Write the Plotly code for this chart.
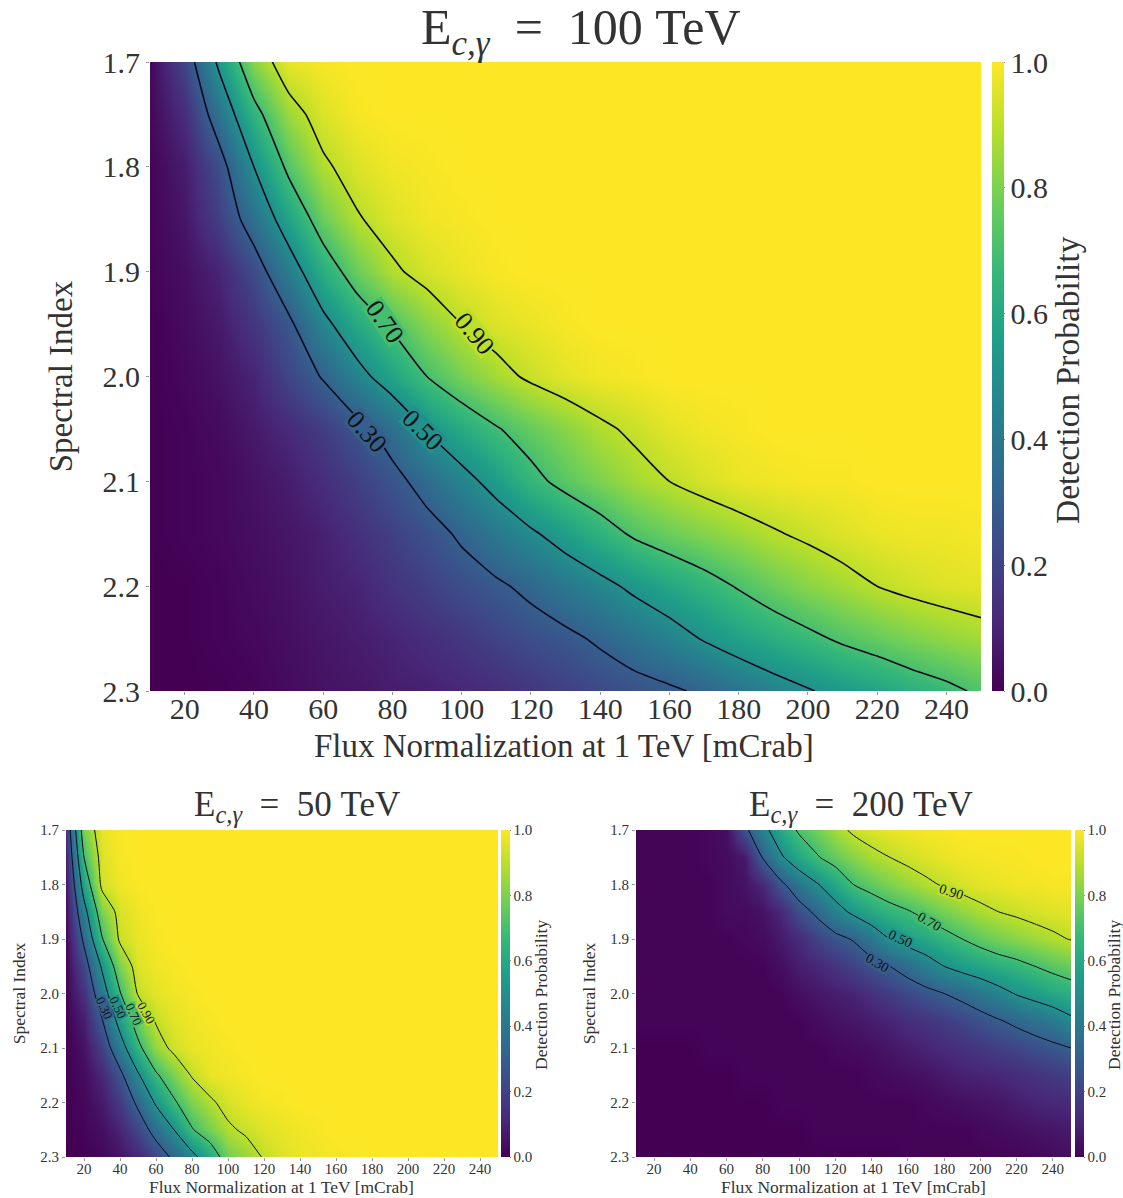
import plotly.graph_objects as go
from plotly.colors import sample_colorscale

FLUX = [10, 20, 30, 40, 50, 60, 70, 80, 90, 100, 110, 120, 130, 140, 150, 160, 170, 180, 190, 200, 210, 220, 230, 240, 250]
INDEX = [1.7, 1.75, 1.8, 1.85, 1.9, 1.95, 2.0, 2.05, 2.1, 2.15, 2.2, 2.25, 2.3]
X_TICKS = [20, 40, 60, 80, 100, 120, 140, 160, 180, 200, 220, 240]
Y_TICKS = [1.7, 1.8, 1.9, 2.0, 2.1, 2.2, 2.3]
C_TICKS = [0, 0.2, 0.4, 0.6, 0.8, 1.0]
X_LABEL = "Flux Normalization at 1 TeV [mCrab]"
Y_LABEL = "Spectral Index"
C_LABEL = "Detection Probability"

P_100 = [
 [.02,.21,.53,.82,.97,.99,1,1,1,1,1,1,1,1,1,1,1,1,1,1,1,1,1,1,1],
 [.02,.13,.38,.65,.85,.95,.99,1,1,1,1,1,1,1,1,1,1,1,1,1,1,1,1,1,1],
 [.01,.08,.24,.50,.73,.88,.95,.98,.99,1,1,1,1,1,1,1,1,1,1,1,1,1,1,1,1],
 [.01,.06,.19,.37,.58,.77,.89,.95,.98,.99,1,1,1,1,1,1,1,1,1,1,1,1,1,1,1],
 [.01,.04,.10,.23,.42,.62,.77,.88,.94,.97,.99,1,1,1,1,1,1,1,1,1,1,1,1,1,1],
 [0,.03,.07,.16,.27,.46,.61,.72,.82,.90,.95,.97,.99,1,1,1,1,1,1,1,1,1,1,1,1],
 [0,.02,.05,.10,.21,.31,.45,.58,.70,.79,.86,.92,.96,.98,.99,1,1,1,1,1,1,1,1,1,1],
 [0,.01,.03,.07,.12,.18,.26,.36,.51,.61,.69,.76,.82,.88,.92,.96,.98,.99,1,1,1,1,1,1,1],
 [0,.01,.02,.05,.08,.13,.19,.26,.35,.45,.55,.66,.74,.80,.86,.90,.94,.97,.98,.99,.99,1,1,1,1],
 [0,.01,.02,.04,.06,.09,.14,.19,.25,.32,.40,.48,.56,.64,.72,.77,.81,.85,.89,.92,.95,.97,.98,.98,.99],
 [0,0,.01,.03,.05,.08,.10,.15,.19,.24,.28,.33,.40,.46,.53,.59,.65,.71,.77,.82,.86,.90,.93,.95,.96],
 [0,0,.01,.02,.04,.06,.08,.10,.13,.16,.20,.24,.27,.32,.38,.44,.51,.57,.62,.67,.72,.76,.80,.83,.86],
 [0,0,0,.01,.03,.05,.06,.08,.09,.11,.13,.16,.19,.22,.25,.28,.32,.38,.44,.49,.54,.58,.63,.67,.72],
]

P_50 = [
 [.15,.80,.97,.995,1,1,1,1,1,1,1,1,1,1,1,1,1,1,1,1,1,1,1,1,1],
 [.10,.70,.95,.99,1,1,1,1,1,1,1,1,1,1,1,1,1,1,1,1,1,1,1,1,1],
 [.06,.58,.93,.98,.995,1,1,1,1,1,1,1,1,1,1,1,1,1,1,1,1,1,1,1,1],
 [.04,.44,.80,.94,.98,.995,1,1,1,1,1,1,1,1,1,1,1,1,1,1,1,1,1,1,1],
 [.02,.33,.69,.92,.97,.99,1,1,1,1,1,1,1,1,1,1,1,1,1,1,1,1,1,1,1],
 [.01,.22,.52,.80,.95,.98,.99,1,1,1,1,1,1,1,1,1,1,1,1,1,1,1,1,1,1],
 [.01,.14,.41,.69,.91,.96,.98,.99,1,1,1,1,1,1,1,1,1,1,1,1,1,1,1,1,1],
 [0,.08,.29,.56,.78,.91,.96,.98,.99,1,1,1,1,1,1,1,1,1,1,1,1,1,1,1,1],
 [0,.05,.19,.42,.66,.84,.93,.97,.98,.99,1,1,1,1,1,1,1,1,1,1,1,1,1,1,1],
 [0,.03,.11,.26,.48,.68,.80,.91,.97,.98,.99,1,1,1,1,1,1,1,1,1,1,1,1,1,1],
 [0,.02,.07,.17,.33,.52,.68,.80,.88,.94,.97,.985,.99,1,1,1,1,1,1,1,1,1,1,1,1],
 [0,.01,.04,.10,.21,.36,.50,.69,.79,.88,.92,.95,.97,.98,.99,1,1,1,1,1,1,1,1,1,1],
 [0,0,.02,.05,.11,.21,.33,.45,.60,.78,.84,.91,.95,.97,.98,.99,.995,1,1,1,1,1,1,1,1],
]

P_200 = [
 [.01,.01,.01,.01,.02,.04,.26,.45,.60,.72,.78,.86,.92,.95,.97,.98,.99,.99,1,1,1,1,1,1,1],
 [.01,.01,.01,.01,.02,.03,.07,.31,.48,.60,.69,.76,.82,.87,.90,.93,.95,.97,.98,.985,.99,.99,1,1,1],
 [.01,.01,.01,.01,.01,.03,.05,.11,.27,.39,.49,.59,.70,.75,.80,.84,.88,.91,.94,.96,.97,.98,.98,.99,.99],
 [.01,.01,.01,.01,.01,.03,.03,.05,.11,.24,.33,.44,.53,.60,.65,.69,.74,.79,.83,.87,.90,.92,.94,.95,.96],
 [.01,.01,.01,.01,.01,.01,.02,.03,.07,.12,.20,.26,.31,.40,.50,.56,.60,.65,.70,.75,.79,.82,.85,.88,.905],
 [.01,.01,.01,.01,.01,.01,.01,.01,.04,.08,.11,.15,.20,.25,.30,.36,.43,.50,.55,.59,.63,.66,.70,.74,.77],
 [.01,.01,.01,.01,.01,.01,.01,.01,.01,.04,.06,.08,.10,.14,.18,.22,.26,.30,.34,.39,.45,.51,.55,.59,.63],
 [.01,.01,.01,.01,.01,.01,.01,.01,.01,.01,.03,.05,.06,.08,.10,.13,.15,.18,.21,.25,.29,.33,.37,.41,.47],
 [0,0,0,0,.01,.01,.01,.01,.01,.01,.01,.02,.03,.04,.06,.08,.10,.12,.14,.16,.19,.21,.24,.27,.30],
 [0,0,0,0,0,0,.01,.01,.01,.01,.01,.01,.01,.02,.03,.04,.05,.07,.09,.10,.11,.13,.15,.17,.19],
 [0,0,0,0,0,0,0,0,.01,.01,.01,.01,.01,.01,.01,.01,.02,.03,.04,.05,.06,.08,.10,.11,.12],
 [0,0,0,0,0,0,0,0,0,0,.01,.01,.01,.01,.01,.01,.01,.01,.01,.02,.03,.04,.05,.06,.07],
 [0,0,0,0,0,0,0,0,0,0,0,0,0,0,0,.01,.01,.01,.01,.01,.01,.01,.02,.03,.04],
]

# contour level, flux, index, text angle
LABELS_100 = [(0.3, 72.7, 2.053, 48), (0.5, 88.8, 2.051, 45), (0.7, 77.9, 1.948, 55), (0.9, 103.9, 1.959, 50)]
LABELS_50 = [(0.3, 31.6, 2.027, 65), (0.5, 39.0, 2.025, 65), (0.7, 47.7, 2.039, 65), (0.9, 54.9, 2.036, 60)]
LABELS_200 = [(0.3, 143.0, 1.944, 30), (0.5, 156.0, 1.90, 25), (0.7, 172.0, 1.869, 30), (0.9, 184.0, 1.814, 18)]

W, H = 1123, 1198
FONT = "Liberation Serif"
TXT = "#333333"
NB = "\u00a0"
panels = [
    dict(z=P_100, title=f"E<sub><i>c,γ</i></sub>{NB} = {NB}100 TeV", box=(150, 981, 62, 691), cb=(992, 12), tick=30, xt=33, xtx=564, xty=746, ct=33.5, ctx=1067, cty=380, tt=50, lw=1.6, lab=26, tty=31, ttx=581, xpad=-12, ystand=19, labels=LABELS_100),
    dict(z=P_50, title=f"E<sub><i>c,γ</i></sub>{NB} = {NB}50 TeV", box=(66, 498, 830, 1157), cb=(501, 9), tick=15, xt=17.5, xtx=281, xty=1187, ct=17.5, ctx=541, cty=995, tt=35, lw=1, lab=13, tty=806, ttx=297, xpad=-5, ystand=10, labels=LABELS_50),
    dict(z=P_200, title=f"E<sub><i>c,γ</i></sub>{NB} = {NB}200 TeV", box=(636, 1071, 830, 1157), cb=(1075, 9), tick=15, xt=17.5, xtx=853, xty=1187, ct=17.5, ctx=1114, cty=995, tt=35, lw=1, lab=14, tty=806, ttx=861, xpad=-5, ystand=10, labels=LABELS_200),
]

fig = go.Figure()
layout = dict(width=W, height=H, margin=dict(l=0, r=0, t=0, b=0, autoexpand=False), paper_bgcolor="white",
              plot_bgcolor="white", showlegend=False, font=dict(family=FONT, color=TXT))
annotations = []
for i, p in enumerate(panels):
    n = "" if i == 0 else str(i + 1)
    x0, x1, y0, y1 = p["box"]
    xa, ya = "x" + n, "y" + n
    fig.add_trace(go.Heatmap(
        x=FLUX, y=INDEX, z=p["z"], zmin=0, zmax=1, zsmooth="best", colorscale="Viridis",
        xaxis=xa, yaxis=ya, hoverinfo="skip",
        colorbar=dict(
            x=p["cb"][0] / W, xanchor="left", xpad=0, ypad=0,
            y=1 - (y0 + y1) / 2 / H, yanchor="middle", len=(y1 - y0) / H, lenmode="fraction",
            thickness=p["cb"][1], thicknessmode="pixels", outlinewidth=0, tickvals=C_TICKS,
            ticktext=[f"{v:.1f}" for v in C_TICKS], ticks="outside", ticklen=1, tickcolor="#888888",
            tickfont=dict(size=p["tick"], family=FONT, color=TXT),
        ),
    ))
    fig.add_trace(go.Contour(
        x=FLUX, y=INDEX, z=p["z"], xaxis=xa, yaxis=ya, showscale=False, hoverinfo="skip",
        autocontour=False,
        contours=dict(start=0.3, end=0.9, size=0.2, coloring="none", showlabels=False),
        line=dict(color="#0a0a1e", width=p["lw"], smoothing=0.6),
    ))
    layout["xaxis" + n] = dict(
        domain=[x0 / W, x1 / W], range=[10, 250], anchor=ya, tickvals=X_TICKS, ticks="outside", ticklen=3,
        ticklabelstandoff=p["xpad"],
        tickcolor="#999999", tickfont=dict(size=p["tick"], family=FONT, color=TXT), showgrid=False, zeroline=False,
    )
    layout["yaxis" + n] = dict(
        domain=[1 - y1 / H, 1 - y0 / H], range=[2.3, 1.7], anchor=xa, tickvals=Y_TICKS, tickformat=".1f", ticks="outside",
        ticklen=3, tickcolor="#999999", tickfont=dict(size=p["tick"], family=FONT, color=TXT), showgrid=False, zeroline=False,
        title=dict(text=Y_LABEL, font=dict(size=p["xt"], family=FONT, color=TXT), standoff=p["ystand"]),
    )
    annotations.append(dict(text=p["title"], x=p["ttx"] / W, y=1 - p["tty"] / H, xref="paper", yref="paper",
                            xanchor="center", yanchor="middle", showarrow=False,
                            font=dict(size=p["tt"], family=FONT, color=TXT)))
    annotations.append(dict(text=X_LABEL, x=p["xtx"] / W, y=1 - p["xty"] / H, xref="paper", yref="paper",
                            xanchor="center", yanchor="middle", showarrow=False,
                            font=dict(size=p["xt"], family=FONT, color=TXT)))
    annotations.append(dict(text=C_LABEL, x=p["ctx"] / W, y=1 - p["cty"] / H, xref="paper", yref="paper", textangle=-90,
                            xanchor="center", yanchor="middle", showarrow=False,
                            font=dict(size=p["ct"], family=FONT, color=TXT)))
    for level, fx, idx, angle in p["labels"]:
        annotations.append(dict(text=f"{level:.2f}", x=fx, y=idx, xref=xa, yref=ya, textangle=angle, showarrow=False,
                                xanchor="center", yanchor="middle", borderpad=0, height=p["lab"] * 0.85,
                                bgcolor=sample_colorscale("Viridis", [level])[0],
                                font=dict(size=p["lab"], family=FONT, color="#111111")))
layout["annotations"] = annotations
fig.update_layout(**layout)
fig.write_html("out.html", post_script="document.body.style.margin='0';", config={"displayModeBar": False})
